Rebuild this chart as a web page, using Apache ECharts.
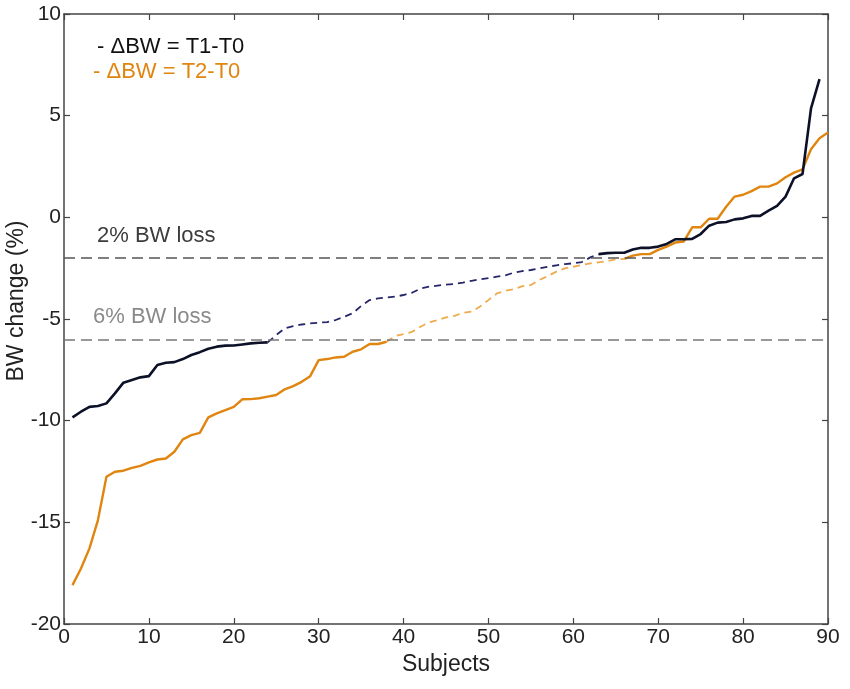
<!DOCTYPE html>
<html>
<head>
<meta charset="utf-8">
<script src="https://cdn.jsdelivr.net/npm/echarts@6/dist/echarts.min.js"></script>
<style>
html,body{margin:0;padding:0;background:#fff;}
#chart{width:850px;height:689px;}
</style>
</head>
<body>
<div id="chart"></div>
<script>
// ---- Data ----
// Subjects sorted by BW change; index i -> subject i+1
const t1Values = [
  -9.84,-9.56,-9.32,-9.28,-9.15,-8.66,-8.13,-8.00,-7.87,-7.81,
  -7.26,-7.15,-7.12,-6.97,-6.77,-6.63,-6.46,-6.36,-6.31,-6.30,
  -6.25,-6.20,-6.17,-6.15,-5.79,-5.46,-5.35,-5.27,-5.22,-5.18,
  -5.15,-5.05,-4.89,-4.72,-4.36,-4.07,-3.99,-3.94,-3.90,-3.82,
  -3.71,-3.50,-3.41,-3.36,-3.31,-3.28,-3.21,-3.12,-3.05,-2.99,
  -2.92,-2.85,-2.72,-2.64,-2.59,-2.51,-2.43,-2.36,-2.30,-2.26,
  -2.20,-1.97,-1.81,-1.76,-1.74,-1.74,-1.58,-1.50,-1.50,-1.44,
  -1.31,-1.08,-1.08,-1.06,-0.82,-0.41,-0.26,-0.23,-0.10,-0.05,
  0.07,0.07,0.33,0.56,1.02,1.92,2.13,5.36,6.80
];
const t2Values = [
  -18.09,-17.27,-16.28,-14.89,-12.76,-12.51,-12.46,-12.32,-12.22,-12.05,
  -11.91,-11.86,-11.53,-10.92,-10.71,-10.60,-9.84,-9.64,-9.48,-9.32,
  -8.95,-8.94,-8.90,-8.82,-8.74,-8.46,-8.30,-8.09,-7.81,-7.02,
  -6.97,-6.89,-6.86,-6.61,-6.49,-6.23,-6.23,-6.12,-5.84,-5.74,
  -5.63,-5.38,-5.17,-5.05,-4.92,-4.85,-4.69,-4.64,-4.39,-4.07,
  -3.74,-3.61,-3.54,-3.38,-3.33,-3.08,-2.89,-2.67,-2.51,-2.43,
  -2.35,-2.26,-2.21,-2.15,-2.07,-2.04,-1.88,-1.81,-1.81,-1.60,
  -1.44,-1.24,-1.19,-0.49,-0.49,-0.07,-0.07,0.52,1.02,1.11,
  1.29,1.51,1.51,1.67,1.97,2.20,2.36,3.35,3.89,4.17
];
// segments drawn dashed (between 6% and 2% loss)
const t1DashRange = [24, 63];
const t2DashRange = [38, 66];
const thresholds = [-2, -6];
const thresholdLabels = ['2% BW loss', '6% BW loss'];
const legendLabels = ['- \u0394BW = T1-T0', '- \u0394BW = T2-T0'];
const xAxisTitle = 'Subjects';
const yAxisTitle = 'BW change (%)';
const xTicks = {min: 0, max: 90, interval: 10};
const yTicks = {min: -20, max: 10, interval: 5};

function seg(vals, from, to) {
  const out = [];
  for (let i = from; i <= to; i++) out.push([i, vals[i - 1]]);
  return out;
}

const FONT = '"Liberation Sans", Arial, sans-serif';
const BLACK = '#0d1128';
const NAVY = '#26266a';
const ORANGE = '#e0850f';
const LORANGE = '#efaa4c';

const chart = echarts.init(document.getElementById('chart'), null, {renderer: 'canvas'});

const axisLine = {show: true, onZero: false, lineStyle: {color: '#444', width: 1.5}};
const tick = {show: true, inside: true, length: 6, lineStyle: {color: '#444', width: 1.2}};

function lineSeries(data, color, width, dashed, z) {
  return {
    type: 'line', data: data, showSymbol: false, symbol: 'none', z: z,
    lineStyle: {color: color, width: width, type: dashed ? [7, 5] : 'solid'},
    silent: true
  };
}

const option = {
  animation: false,
  backgroundColor: '#fff',
  grid: {left: 64, right: 22, top: 14, bottom: 65, containLabel: false, outerBoundsMode: 'none'},
  xAxis: [
    {
      type: 'value', min: xTicks.min, max: xTicks.max, interval: xTicks.interval,
      name: xAxisTitle, nameLocation: 'middle', nameGap: 27,
      nameTextStyle: {fontFamily: FONT, fontSize: 23, color: '#222'},
      axisLine: axisLine, axisTick: tick, splitLine: {show: false},
      axisLabel: {fontFamily: FONT, fontSize: 21, color: '#222', margin: 3}
    },
    {
      type: 'value', position: 'top', min: xTicks.min, max: xTicks.max, interval: xTicks.interval,
      axisLine: axisLine, axisTick: tick, splitLine: {show: false}, axisLabel: {show: false}
    }
  ],
  yAxis: [
    {
      type: 'value', min: yTicks.min, max: yTicks.max, interval: yTicks.interval,
      axisLine: axisLine, axisTick: tick, splitLine: {show: false},
      axisLabel: {fontFamily: FONT, fontSize: 21, color: '#222', margin: 3}
    },
    {
      type: 'value', position: 'right', min: yTicks.min, max: yTicks.max, interval: yTicks.interval,
      axisLine: axisLine, axisTick: tick, splitLine: {show: false}, axisLabel: {show: false}
    }
  ],
  series: [
    {
      type: 'line', data: [], silent: true,
      markLine: {
        symbol: 'none', silent: true, label: {show: false},
        data: [
          {yAxis: thresholds[0], lineStyle: {color: '#555', width: 1.5, type: [11, 6]}},
          {yAxis: thresholds[1], lineStyle: {color: '#777', width: 1.5, type: [11, 6]}}
        ]
      }
    },
    lineSeries(seg(t2Values, 1, t2DashRange[0]), ORANGE, 2.4, false, 3),
    lineSeries(seg(t2Values, t2DashRange[0], t2DashRange[1]), LORANGE, 1.8, true, 3),
    lineSeries(seg(t2Values, t2DashRange[1], t2Values.length), ORANGE, 2.4, false, 3),
    lineSeries(seg(t1Values, 1, t1DashRange[0]), BLACK, 2.6, false, 4),
    lineSeries(seg(t1Values, t1DashRange[0], t1DashRange[1]), NAVY, 1.8, true, 4),
    lineSeries(seg(t1Values, t1DashRange[1], t1Values.length), BLACK, 2.6, false, 4)
  ],
  graphic: [
    {type: 'text', x: 17, y: 301, rotation: Math.PI / 2,
     style: {text: yAxisTitle, fill: '#222', font: '23px ' + FONT, align: 'center', verticalAlign: 'middle'}},
    {type: 'text', left: 97, top: 36, style: {text: legendLabels[0], fill: '#111', font: '22px ' + FONT}},
    {type: 'text', left: 93, top: 61, style: {text: legendLabels[1], fill: ORANGE, font: '22px ' + FONT}},
    {type: 'text', left: 97, top: 225, style: {text: thresholdLabels[0], fill: '#3c3c3c', font: '22px ' + FONT}},
    {type: 'text', left: 93, top: 306, style: {text: thresholdLabels[1], fill: '#8a8a8a', font: '22px ' + FONT}}
  ]
};
chart.setOption(option);
</script>
</body>
</html>
